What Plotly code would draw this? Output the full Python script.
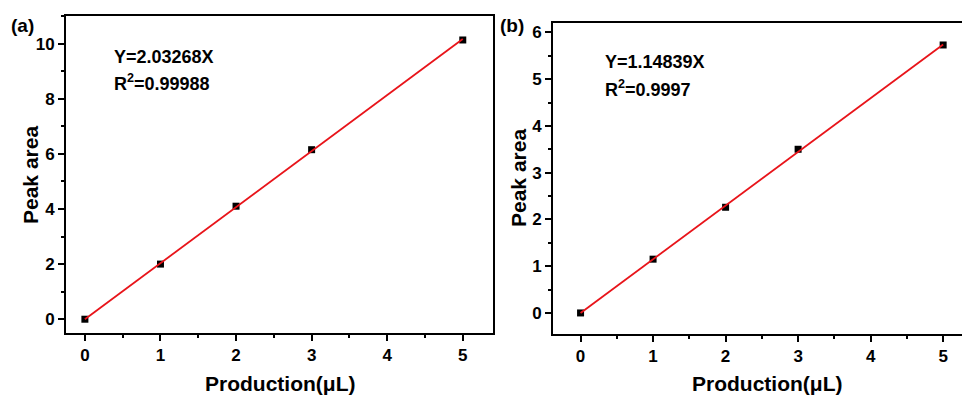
import plotly.graph_objects as go

x_vals = [0, 1, 2, 3, 5]
peak_a = [0.0, 2.0, 4.1, 6.15, 10.13]
peak_b = [0.0, 1.15, 2.26, 3.50, 5.73]
slope_a = 2.03268
slope_b = 1.14839
eq_a = ["Y=2.03268X", "R<sup>2</sup>=0.99988"]
eq_b = ["Y=1.14839X", "R<sup>2</sup>=0.9997"]
fit_x = [0, 5]

FONT = "Liberation Sans, Arial, sans-serif"
W, H = 962, 396

fig = go.Figure()
for i, (ys, k) in enumerate([(peak_a, slope_a), (peak_b, slope_b)]):
    xa = "x" if i == 0 else "x2"
    ya = "y" if i == 0 else "y2"
    fig.add_trace(go.Scatter(x=x_vals, y=ys, mode="markers", xaxis=xa, yaxis=ya,
                             marker=dict(symbol="square", size=7, color="black"),
                             showlegend=False))
    fig.add_trace(go.Scatter(x=fit_x, y=[k * v for v in fit_x], mode="lines", xaxis=xa, yaxis=ya,
                             line=dict(color="#e8141a", width=1.8), showlegend=False))

tickfont = dict(family=FONT, size=17, color="black", weight="bold")
common_axis = dict(showline=True, linecolor="black", linewidth=2, ticks="outside",
                   ticklen=6, tickwidth=2, tickcolor="black", showgrid=False,
                   zeroline=False, tickfont=tickfont)

fig.update_layout(
    width=W, height=H, margin=dict(l=0, r=0, t=0, b=0),
    paper_bgcolor="white", plot_bgcolor="white",
    xaxis=dict(domain=[66 / W, 493 / W], range=[-0.25, 5.4], dtick=1, mirror=True,
               minor=dict(ticks="outside", ticklen=3, tickwidth=2, tickcolor="black", dtick=0.5),
               anchor="y", **common_axis),
    yaxis=dict(domain=[1 - 333 / H, 1 - 16 / H], range=[-0.5, 11], dtick=2, mirror=True,
               minor=dict(ticks="outside", ticklen=3, tickwidth=2, tickcolor="black", dtick=1),
               anchor="x", **common_axis),
    xaxis2=dict(domain=[553 / W, 1.0], range=[-0.38, 5.26], dtick=1, mirror=True,
                minor=dict(ticks="outside", ticklen=3, tickwidth=2, tickcolor="black", dtick=0.5),
                anchor="y2", **common_axis),
    yaxis2=dict(domain=[1 - 334 / H, 1 - 23 / H], range=[-0.45, 6.2], dtick=1, mirror=False,
                minor=dict(ticks="outside", ticklen=3, tickwidth=2, tickcolor="black", dtick=0.5),
                anchor="x2", **common_axis),
)

def ann(x, y, text, size=18, angle=0, xanchor="left"):
    fig.add_annotation(x=x / W, y=1 - y / H, xref="paper", yref="paper", text=text,
                       showarrow=False, xanchor=xanchor, yanchor="middle", textangle=angle,
                       font=dict(family=FONT, size=size, color="black", weight="bold"))

ann(9, 25, "(a)", size=19)
ann(498, 25, "(b)", size=19)
ann(112, 57, eq_a[0])
ann(112, 83, eq_a[1])
ann(603, 62, eq_b[0])
ann(603, 88, eq_b[1])
ann(30, 175, "Peak area", size=21, angle=-90, xanchor="center")
ann(518, 178, "Peak area", size=21, angle=-90, xanchor="center")
ann(280, 383, "Production(μL)", size=21, xanchor="center")
ann(767, 383, "Production(μL)", size=21, xanchor="center")

fig.write_html("out.html")
